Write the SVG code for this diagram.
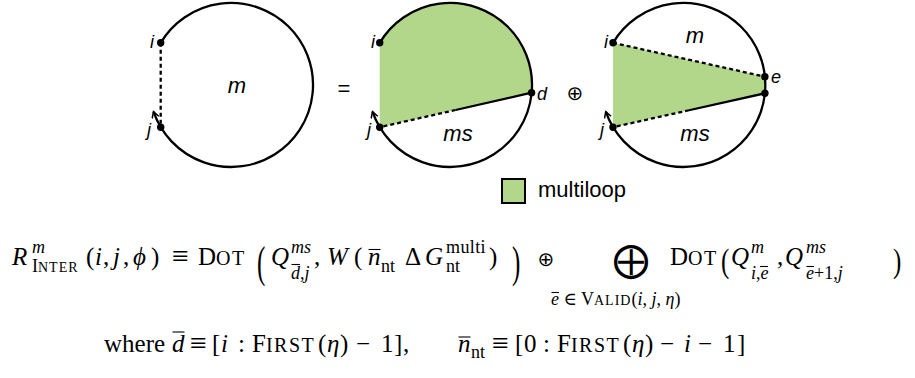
<svg xmlns="http://www.w3.org/2000/svg" width="915" height="378" viewBox="0 0 915 378">
<defs>
<style>
.ring{fill:none;stroke:#000;stroke-width:2.3}
.solid{fill:none;stroke:#000;stroke-width:2.3}
.dash{fill:none;stroke:#000;stroke-width:2.3;stroke-dasharray:4 3}
.ml{fill:#b2d78b;stroke:none}
.dot{fill:#000}
.lab{font-family:"Liberation Sans",Arial,sans-serif;font-style:italic;fill:#000}
.sm{font-size:18px}
.big{font-size:22px}
.m{font-family:"Liberation Serif","DejaVu Serif",serif;font-size:25px;fill:#000}
.it{font-style:italic}
.s{font-size:18px}
.sc{font-size:20px;letter-spacing:1.5px}
.scs{font-size:14px;letter-spacing:1px}
.eqv{font-size:30px}
.bar{stroke:#000;stroke-width:1.1}
.sym{font-family:"DejaVu Sans",sans-serif;fill:#000}
</style>
<marker id="ah" markerWidth="10" markerHeight="10" refX="7" refY="4" orient="auto" markerUnits="userSpaceOnUse">
<path d="M1,0.5 L7,4 L1,7.5" fill="none" stroke="#000" stroke-width="1.5"/>
</marker>
</defs>

<g id="loop-left">
<path class="ring" d="M160.7,42.8 A82,82 0 1 1 153.5,111.7" marker-end="url(#ah)"/>
<line class="dash" x1="160.7" y1="42.8" x2="160.7" y2="127.2"/>
<circle class="dot" cx="160.7" cy="42.8" r="3.7"/>
<circle class="dot" cx="160.7" cy="127.2" r="3.7"/>
<text class="lab sm" x="154" y="48" text-anchor="end">i</text>
<text class="lab sm" x="151" y="136" text-anchor="end">j</text>
<text class="lab big" x="237" y="93" text-anchor="middle">m</text>
</g>

<text id="equals" x="344" y="96" text-anchor="middle" font-family="Liberation Sans, Arial, sans-serif" font-size="22">=</text>

<g id="loop-middle">
<path class="ml" d="M379.7,42.8 A82,82 0 0 1 531.6,92.7 L379.7,127.2 Z"/>
<path class="ring" d="M379.7,42.8 A82,82 0 1 1 372.5,111.7" marker-end="url(#ah)"/>
<line class="solid" x1="531.6" y1="92.7" x2="455.6" y2="110"/>
<line class="dash" x1="455.6" y1="110" x2="379.7" y2="127.2"/>
<circle class="dot" cx="379.7" cy="42.8" r="3.7"/>
<circle class="dot" cx="379.7" cy="127.2" r="3.7"/>
<circle class="dot" cx="531.6" cy="92.7" r="3.7"/>
<text class="lab sm" x="375" y="48" text-anchor="end">i</text>
<text class="lab sm" x="371" y="136" text-anchor="end">j</text>
<text class="lab sm" x="537" y="100">d</text>
<text class="lab big" x="458" y="141" text-anchor="middle">ms</text>
</g>

<text id="oplus" class="sym" x="575" y="100" text-anchor="middle" font-size="20">⊕</text>

<g id="loop-right">
<path class="ml" d="M613,42.8 L764.9,76.7 A82,82 0 0 1 764.9,93.3 L613,127.2 Z"/>
<path class="ring" d="M613,42.8 A82,82 0 1 1 605.8,111.7" marker-end="url(#ah)"/>
<line class="dash" x1="613" y1="42.8" x2="764.9" y2="76.7"/>
<line class="solid" x1="764.9" y1="93.3" x2="689" y2="110.25"/>
<line class="dash" x1="689" y1="110.25" x2="613" y2="127.2"/>
<circle class="dot" cx="613" cy="42.8" r="3.7"/>
<circle class="dot" cx="613" cy="127.2" r="3.7"/>
<circle class="dot" cx="764.9" cy="76.7" r="3.7"/>
<circle class="dot" cx="764.9" cy="93.3" r="3.7"/>
<text class="lab sm" x="608" y="48" text-anchor="end">i</text>
<text class="lab sm" x="604" y="136" text-anchor="end">j</text>
<text class="lab sm" x="771" y="83">e</text>
<text class="lab big" x="695" y="43" text-anchor="middle">m</text>
<text class="lab big" x="695" y="141" text-anchor="middle">ms</text>
</g>

<g id="legend">
<rect x="502" y="179" width="23" height="24" fill="#b2d78b" stroke="#000" stroke-width="2"/>
<text x="538" y="197" font-family="Liberation Sans, Arial, sans-serif" font-size="22">multiloop</text>
</g>

<g id="equation">
<text class="m it" x="12" y="265">R</text>
<text class="m it s" x="32" y="253">m</text>
<text class="m s" x="32" y="272">I<tspan class="scs">NTER</tspan></text>
<text class="m" y="265"><tspan x="86">(</tspan><tspan class="it" x="95">i</tspan><tspan x="103">,</tspan><tspan class="it" x="113">j</tspan><tspan x="123">,</tspan><tspan class="it" x="133">ϕ</tspan><tspan x="151">)</tspan></text>
<text class="m eqv" x="172" y="266">≡</text>
<text class="m" x="198" y="265">D<tspan class="sc">OT</tspan></text>
<text class="m" font-size="28" transform="translate(257,277) scale(1,1.8)">(</text>
<text class="m it" x="271" y="265">Q</text>
<text class="m it s" x="291" y="253">ms</text>
<text class="m s" x="291" y="279"><tspan class="it">d</tspan>,<tspan class="it">j</tspan></text>
<line class="bar" x1="291.5" y1="264.5" x2="300" y2="264.5"/>
<text class="m" x="314" y="265">,</text>
<text class="m it" x="327" y="265">W</text>
<text class="m" x="354" y="265">(</text>
<text class="m it" x="368" y="265">n</text>
<line class="bar" x1="368.5" y1="249.5" x2="380.5" y2="249.5"/>
<text class="m s" x="381" y="272">nt</text>
<text class="m" x="405" y="265">Δ</text>
<text class="m it" x="425" y="265">G</text>
<text class="m s" x="446" y="253" letter-spacing="0.4">multi</text>
<text class="m s" x="446" y="272">nt</text>
<text class="m" x="489" y="265">)</text>
<text class="m" font-size="28" transform="translate(512,277) scale(1,1.8)">)</text>
<text class="sym" x="546" y="266" text-anchor="middle" font-size="20">⊕</text>
<text class="sym" x="631" y="272" text-anchor="middle" font-size="36">⨁</text>
<text class="m s" x="551" y="305"><tspan class="it">e</tspan> ∈ V<tspan class="scs">ALID</tspan>(<tspan class="it">i</tspan>, <tspan class="it">j</tspan>, <tspan class="it">η</tspan>)</text>
<line class="bar" x1="551.5" y1="292.5" x2="559" y2="292.5"/>
<text class="m" x="670" y="265">D<tspan class="sc">OT</tspan></text>
<text class="m" font-size="26" transform="translate(721,272) scale(1,1.35)">(</text>
<text class="m it" x="731" y="265">Q</text>
<text class="m it s" x="751" y="253">m</text>
<text class="m s" x="751" y="279"><tspan class="it">i</tspan>,<tspan class="it">e</tspan></text>
<line class="bar" x1="760" y1="266.5" x2="768" y2="266.5"/>
<text class="m" x="777" y="265">,</text>
<text class="m it" x="785" y="265">Q</text>
<text class="m it s" x="806" y="253">ms</text>
<text class="m s" x="806" y="279"><tspan class="it">e</tspan>+1,<tspan class="it">j</tspan></text>
<line class="bar" x1="806.5" y1="266.5" x2="814" y2="266.5"/>
<text class="m" font-size="26" transform="translate(893,272) scale(1,1.35)">)</text>
</g>

<g id="where-line">
<text class="m" x="104" y="352">where</text>
<text class="m it" x="172" y="352">d</text>
<line class="bar" x1="172.5" y1="332" x2="184.5" y2="332"/>
<text class="m eqv" x="190" y="353">≡</text>
<text class="m" y="352"><tspan x="212">[</tspan><tspan class="it" x="221">i</tspan><tspan x="238">:</tspan><tspan x="252">F</tspan><tspan class="sc">IRST</tspan><tspan x="318">(</tspan><tspan class="it" x="327">η</tspan><tspan x="340">)</tspan><tspan x="356">−</tspan><tspan x="381">1</tspan><tspan x="394">]</tspan><tspan x="403">,</tspan></text>
<text class="m it" x="458" y="352">n</text>
<line class="bar" x1="458.5" y1="337" x2="470.5" y2="337"/>
<text class="m s" x="471" y="358">nt</text>
<text class="m eqv" x="492" y="353">≡</text>
<text class="m" y="352"><tspan x="515">[</tspan><tspan x="524">0</tspan><tspan x="543">:</tspan><tspan x="557">F</tspan><tspan class="sc">IRST</tspan><tspan x="623">(</tspan><tspan class="it" x="632">η</tspan><tspan x="645">)</tspan><tspan x="660">−</tspan><tspan class="it" x="684">i</tspan><tspan x="698">−</tspan><tspan x="723">1</tspan><tspan x="737">]</tspan></text>
</g>
</svg>
